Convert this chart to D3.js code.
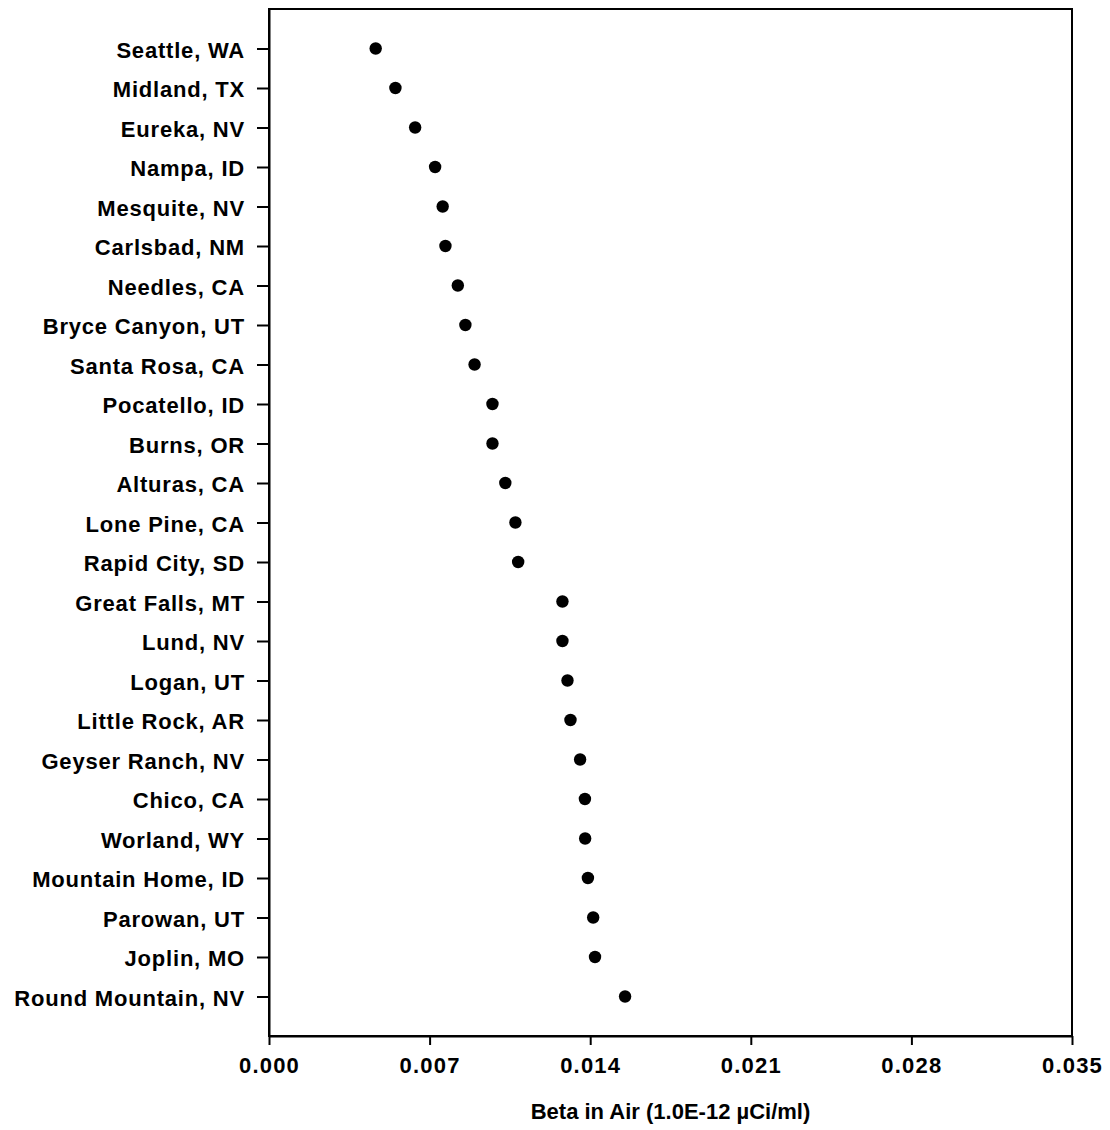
<!DOCTYPE html>
<html>
<head>
<meta charset="utf-8">
<script src="https://cdn.jsdelivr.net/npm/d3@7"></script>
<style>
  html, body { margin: 0; padding: 0; background: #fff; }
  svg { display: block; }
  text { font-family: "Liberation Sans", Arial, Helvetica, sans-serif; font-weight: bold; fill: #000; }
</style>
</head>
<body>
<script>
const stations = [
  "Seattle, WA", "Midland, TX", "Eureka, NV", "Nampa, ID", "Mesquite, NV",
  "Carlsbad, NM", "Needles, CA", "Bryce Canyon, UT", "Santa Rosa, CA", "Pocatello, ID",
  "Burns, OR", "Alturas, CA", "Lone Pine, CA", "Rapid City, SD", "Great Falls, MT",
  "Lund, NV", "Logan, UT", "Little Rock, AR", "Geyser Ranch, NV", "Chico, CA",
  "Worland, WY", "Mountain Home, ID", "Parowan, UT", "Joplin, MO", "Round Mountain, NV"
];
const betaValues = [
  0.00465, 0.00551, 0.00637, 0.00724, 0.00757,
  0.00769, 0.00823, 0.00856, 0.00896, 0.00974,
  0.00974, 0.01030, 0.01074, 0.01086, 0.01279,
  0.01279, 0.01301, 0.01314, 0.01356, 0.01377,
  0.01378, 0.01390, 0.01413, 0.01421, 0.01552
];
const xTicks = [0.000, 0.007, 0.014, 0.021, 0.028, 0.035];
const xTitle = "Beta in Air (1.0E-12 \u00B5Ci/ml)";

const W = 1110, H = 1130;
const margin = { top: 9, right: 38, bottom: 94, left: 269 };
const iw = W - margin.left - margin.right;
const ih = H - margin.top - margin.bottom;

const svg = d3.select("body").append("svg").attr("width", W).attr("height", H);
const g = svg.append("g").attr("transform", `translate(${margin.left},${margin.top})`);

const x = d3.scaleLinear().domain([0, 0.035]).range([0, iw]);
const y = d3.scalePoint().domain(stations).range([0, ih]).padding(1);

// frame
g.append("rect").attr("x", 0).attr("y", 0).attr("width", iw).attr("height", ih)
  .attr("fill", "none").attr("stroke", "#000").attr("stroke-width", 2);

// x axis
const xAxis = g.append("g").attr("transform", `translate(0,${ih})`)
  .call(d3.axisBottom(x).tickValues(xTicks).tickFormat(d3.format(".3f")).tickSize(9).tickPadding(12).tickSizeOuter(0));
xAxis.select(".domain").attr("stroke-width", 2);
xAxis.selectAll(".tick line").attr("stroke-width", 2);
xAxis.selectAll("text").attr("font-size", 22).style("letter-spacing", "1.2px").attr("font-family", null);

// y axis
const yAxis = g.append("g")
  .call(d3.axisLeft(y).tickSize(12).tickPadding(12).tickSizeOuter(0));
yAxis.select(".domain").attr("stroke-width", 2);
yAxis.selectAll(".tick line").attr("stroke-width", 2);
yAxis.selectAll("text").attr("font-size", 22).attr("dy", "0.4em").style("letter-spacing", "0.8px").attr("font-family", null);

// dots
g.selectAll("circle.dot").data(stations).join("circle")
  .attr("class", "dot")
  .attr("cx", (d, i) => x(betaValues[i]))
  .attr("cy", d => y(d))
  .attr("r", 6.2)
  .attr("fill", "#000");

// x title
svg.append("text")
  .attr("x", margin.left + iw / 2)
  .attr("y", 1119)
  .attr("text-anchor", "middle")
  .attr("font-size", 22)
  .text(xTitle);
</script>
</body>
</html>
